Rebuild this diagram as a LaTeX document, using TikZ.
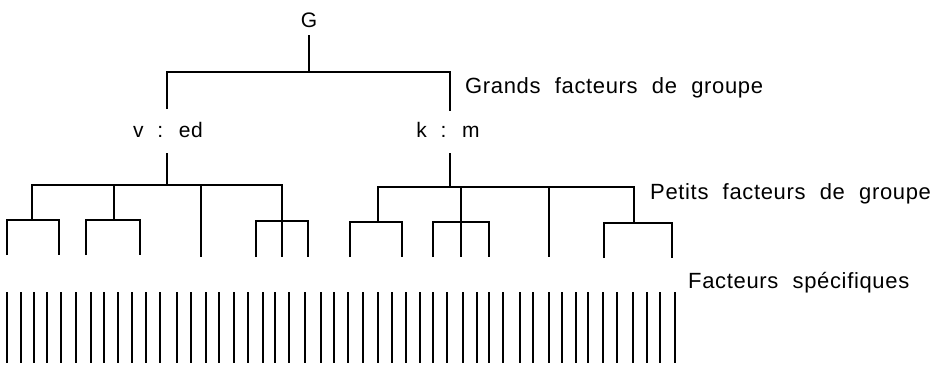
\documentclass[tikz,border=0pt]{standalone}
\usepackage{fontspec}
\setmainfont{Liberation Sans}[LetterSpace=3,WordSpace={2.1,1,1}]
\begin{document}
\begin{tikzpicture}[x=1pt,y=-1pt,
  ln/.style={line width=1.7pt,line join=miter,line cap=butt},
  lbl/.style={inner sep=0pt,font=\fontsize{22}{24}\selectfont},
  fac/.style={inner sep=0pt,font=\fontsize{21}{23}\selectfont}]
\useasboundingbox (0,0) rectangle (936,365);
% nodes
\node[fac] (G) at (309,20) {G};
\node[fac,anchor=base] (ved) at (168,137) {v : ed};
\node[fac,anchor=base] (km) at (448,137) {k : m};
\node[lbl,anchor=base west] (grands) at (465,93) {Grands facteurs de groupe};
\node[lbl,anchor=base west] (petits) at (650,199) {Petits facteurs de groupe};
\node[lbl,anchor=base west] (spec) at (688,288) {Facteurs spécifiques};
% coordinates
\coordinate (gtop) at (309,35);
\coordinate (gbar) at (309,72);
\coordinate (vtop) at (167,109);
\coordinate (ktop) at (450,111);
\coordinate (vbot) at (167,153);
\coordinate (kbot) at (450,153);
\coordinate (vbar) at (167,185);
\coordinate (kbar) at (450,187);
% top level
\draw[ln] (gtop) -- (gbar);
\draw[ln] (vtop) -- (167,72) -- (450,72) -- (ktop);
\draw[ln] (vbot) -- (vbar);
\draw[ln] (kbot) -- (kbar);
% left group
\draw[ln] (32,220) -- (32,185) -- (282,185) -- (282,257);
\draw[ln] (114,185) -- (114,220);
\draw[ln] (201,185) -- (201,257);
\draw[ln] (7,255) -- (7,220) -- (59,220) -- (59,255);
\draw[ln] (86,255) -- (86,220) -- (140,220) -- (140,255);
\draw[ln] (256,257) -- (256,221) -- (308,221) -- (308,257);
% right group
\draw[ln] (378,222) -- (378,187) -- (634,187) -- (634,223);
\draw[ln] (461,187) -- (461,257);
\draw[ln] (549,187) -- (549,257);
\draw[ln] (350,257) -- (350,222) -- (402,222) -- (402,257);
\draw[ln] (433,257) -- (433,222) -- (489,222) -- (489,257);
\draw[ln] (604,258) -- (604,223) -- (672,223) -- (672,258);
% specific factors
\foreach \x [count=\i] in {7,21,34,47,61,76,91,104,118,132,146,160,177,191,206,219,234,248,263,275,289,305,321,334,348,363,378,392,406,420,433,447,463,477,489,503,520,533,549,562,576,588,603,617,633,647,660,675}
  \draw[ln] (\x,292) coordinate (s\i) -- (\x,363);
\end{tikzpicture}
\end{document}
